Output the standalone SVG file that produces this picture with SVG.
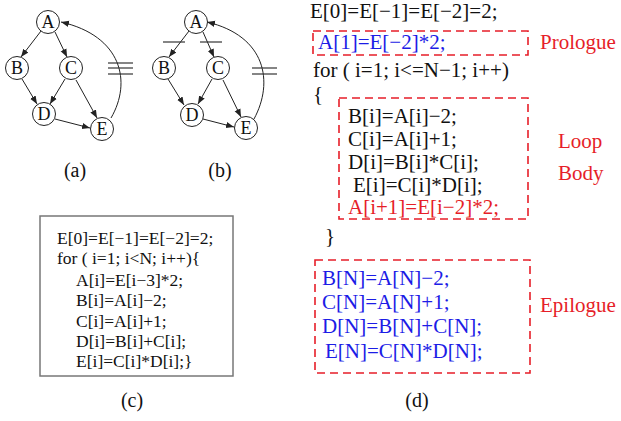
<svg xmlns="http://www.w3.org/2000/svg" width="621" height="421" viewBox="0 0 621 421">
<defs>
<marker id="ah" viewBox="0 0 10 10" refX="10" refY="5" markerWidth="8" markerHeight="8" orient="auto" markerUnits="userSpaceOnUse">
<path d="M0,1 L10,5 L0,9 z" fill="#222"/>
</marker>
<style>
.n circle{fill:#fff;stroke:#222;stroke-width:1}
.n text{font-family:"Liberation Serif",serif;font-size:18px;text-anchor:middle;fill:#111}
.e{fill:none;stroke:#222;stroke-width:1;marker-end:url(#ah)}
.cut{stroke:#333;stroke-width:1.2}
.t{font-family:"Liberation Serif",serif;fill:#111}
.c{font-size:17.5px}
.d{font-size:21px}
.blue{fill:#1c1ce6}
.red{fill:#e61e28}
.box{fill:none;stroke:#e61e28;stroke-width:1.6;stroke-dasharray:8,5}
.cap{font-family:"Liberation Serif",serif;font-size:20px;fill:#111;text-anchor:middle}
</style>
</defs>
<rect width="621" height="421" fill="#fff"/>

<!-- graph (a) -->
<g id="graph-a">
<g id="connectors-a">
<line class="e" x1="41" y1="31" x2="21" y2="57"/>
<line class="e" x1="55" y1="32" x2="67" y2="57"/>
<line class="e" x1="22" y1="79" x2="37" y2="104"/>
<line class="e" x1="65" y1="79" x2="50" y2="104"/>
<line class="e" x1="76" y1="80" x2="97" y2="118"/>
<line class="e" x1="55" y1="119" x2="90" y2="128"/>
<path class="e" d="M111,118 C132,82 122,36 61,22"/>
<line class="cut" x1="108" y1="63" x2="133" y2="63"/>
<line class="cut" x1="108" y1="68" x2="133" y2="68"/>
<line class="cut" x1="108" y1="74" x2="133" y2="74"/>
</g>
<g id="a-A" class="n"><circle cx="48" cy="22" r="11.5"/><text x="48" y="28">A</text></g>
<g id="a-B" class="n"><circle cx="17" cy="68" r="11.5"/><text x="17" y="74">B</text></g>
<g id="a-C" class="n"><circle cx="71" cy="68" r="11.5"/><text x="71" y="74">C</text></g>
<g id="a-D" class="n"><circle cx="44" cy="114" r="11.5"/><text x="44" y="120">D</text></g>
<g id="a-E" class="n"><circle cx="102" cy="129" r="11.5"/><text x="102" y="135">E</text></g>
</g>

<!-- graph (b) -->
<g id="graph-b">
<g id="connectors-b">
<line class="e" x1="189" y1="31" x2="169" y2="57"/>
<line class="e" x1="203" y1="32" x2="214" y2="57"/>
<line class="e" x1="168" y1="79" x2="184" y2="105"/>
<line class="e" x1="212" y1="79" x2="198" y2="104"/>
<line class="e" x1="223" y1="80" x2="241" y2="117"/>
<line class="e" x1="203" y1="119" x2="234" y2="127"/>
<path class="e" d="M254,119 C274,82 266,36 207,22"/>
<line class="cut" x1="163" y1="42" x2="185" y2="42"/>
<line class="cut" x1="200" y1="42" x2="222" y2="42"/>
<line class="cut" x1="252" y1="68" x2="277" y2="68"/>
<line class="cut" x1="252" y1="74" x2="277" y2="74"/>
</g>
<g id="b-A" class="n"><circle cx="196" cy="22" r="11.5"/><text x="196" y="28">A</text></g>
<g id="b-B" class="n"><circle cx="164" cy="68" r="11.5"/><text x="164" y="74">B</text></g>
<g id="b-C" class="n"><circle cx="218" cy="68" r="11.5"/><text x="218" y="74">C</text></g>
<g id="b-D" class="n"><circle cx="192" cy="115" r="11.5"/><text x="192" y="121">D</text></g>
<g id="b-E" class="n"><circle cx="246" cy="128" r="11.5"/><text x="246" y="134">E</text></g>
</g>

<text class="cap" x="75" y="177">(a)</text>
<text class="cap" x="220" y="177">(b)</text>

<!-- (c) -->
<g id="code-c">
<rect x="40" y="216" width="193" height="160" fill="#fff" stroke="#777" stroke-width="1.5"/>
<text class="t c" x="57" y="244">E[0]=E[−1]=E[−2]=2;</text>
<text class="t c" x="57" y="264">for ( i=1; i&lt;N; i++){</text>
<text class="t c" x="76" y="286">A[i]=E[i−3]*2;</text>
<text class="t c" x="76" y="306">B[i]=A[i]−2;</text>
<text class="t c" x="76" y="327">C[i]=A[i]+1;</text>
<text class="t c" x="76" y="347">D[i]=B[i]+C[i];</text>
<text class="t c" x="76" y="367">E[i]=C[i]*D[i];}</text>
</g>
<text class="cap" x="132" y="407">(c)</text>

<!-- (d) -->
<g id="code-d">
<text class="t d" x="310" y="18">E[0]=E[−1]=E[−2]=2;</text>
<g id="prologue">
<rect class="box" x="313" y="31" width="215" height="24"/>
<text class="t d blue" x="318" y="49">A[1]=E[−2]*2;</text>
<text class="t d red" x="540" y="49">Prologue</text>
</g>
<text class="t d" x="313" y="77">for ( i=1; i&lt;=N−1; i++)</text>
<text class="t d" x="313" y="101">{</text>
<g id="loop-body">
<rect class="box" x="339" y="98" width="189" height="121"/>
<text class="t d" x="348" y="123">B[i]=A[i]−2;</text>
<text class="t d" x="348" y="146">C[i]=A[i]+1;</text>
<text class="t d" x="348" y="169">D[i]=B[i]*C[i];</text>
<text class="t d" x="353" y="192">E[i]=C[i]*D[i];</text>
<text class="t d red" x="348" y="214">A[i+1]=E[i−2]*2;</text>
<text class="t d red" x="558" y="148">Loop</text>
<text class="t d red" x="558" y="180">Body</text>
</g>
<text class="t d" x="325" y="243">}</text>
<g id="epilogue">
<rect class="box" x="315" y="260" width="215" height="113"/>
<text class="t d blue" x="322" y="285">B[N]=A[N]−2;</text>
<text class="t d blue" x="322" y="309">C[N]=A[N]+1;</text>
<text class="t d blue" x="322" y="333">D[N]=B[N]+C[N];</text>
<text class="t d blue" x="325" y="358">E[N]=C[N]*D[N];</text>
<text class="t d red" x="540" y="312">Epilogue</text>
</g>
</g>
<text class="cap" x="417" y="407">(d)</text>
</svg>
